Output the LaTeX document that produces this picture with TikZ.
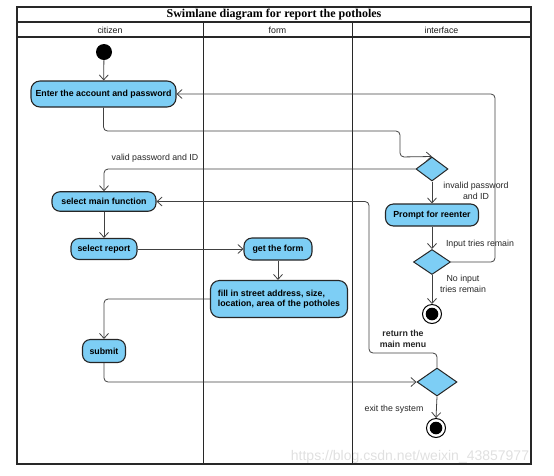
\documentclass[tikz,border=0pt]{standalone}
\usepackage{fontspec}
\setmainfont{Liberation Sans}
\newfontfamily\titlefont{Liberation Serif}
\usetikzlibrary{arrows.meta,shapes.geometric}
\definecolor{actfill}{RGB}{125,206,245}
\definecolor{lineg}{RGB}{65,65,65}
\definecolor{framec}{RGB}{40,40,40}
\begin{document}
\begin{tikzpicture}[x=1pt,y=-1pt,
  act/.style={draw=black!85,line width=1.1pt,fill=actfill,rounded corners=8pt,
    font=\fontsize{8.8}{10.5}\selectfont\bfseries,inner sep=0pt,align=center},
  dec/.style={draw=black!85,line width=1pt,fill=actfill,diamond,inner sep=0pt,shape aspect=1.4},
  startn/.style={circle,fill=black,minimum size=16pt,inner sep=0pt},
  endn/.style={circle,draw=black,line width=1pt,fill=white,minimum size=19pt,inner sep=0pt,
    path picture={\fill[black] (path picture bounding box.center) circle (6.3pt);}},
  conn/.style={draw=lineg,line width=0.8pt,-{Straight Barb[length=5pt,width=9pt]},rounded corners=4pt},
  lab/.style={font=\fontsize{8.8}{10.5}\selectfont,text=black!85,align=center,inner sep=0pt},
  head/.style={font=\fontsize{8.8}{10}\selectfont,text=black!90,inner sep=0pt},
  frame/.style={draw=framec,line width=1.2pt}
]
\useasboundingbox (0,0) rectangle (554,475);
% watermark
\node[text=black!12,font=\fontsize{14}{14}\selectfont,inner sep=0pt] (wm) at (410,457) {https://blog.csdn.net/weixin\_43857977};
% frame
\draw[frame] (17,7) rectangle (531,464);
\draw[frame] (17,22) -- (531,22);
\draw[frame] (17,37) -- (531,37);
\draw[frame,line width=0.9pt] (203,22) -- (203,464);
\draw[frame,line width=0.9pt] (352,22) -- (352,464);
\node[font=\titlefont\fontsize{12}{12}\selectfont\bfseries,inner sep=0pt] (title) at (274,15) {Swimlane diagram for report the potholes};
\node[head] (hc) at (110,30) {citizen};
\node[head] (hf) at (277.5,30) {form};
\node[head] (hi) at (441.5,30) {interface};
% nodes
\node[startn] (start) at (104,52) {};
\node[act,minimum width=145pt,minimum height=26pt,rounded corners=9pt] (enter) at (103.5,94) {Enter the account and password};
\node[dec,minimum width=32pt,minimum height=24pt] (d1) at (432,169) {};
\node[act,minimum width=104pt,minimum height=19.5pt] (main) at (104,201.5) {select main function};
\node[act,minimum width=93pt,minimum height=22pt] (prompt) at (432,215) {Prompt for reenter};
\node[dec,minimum width=37pt,minimum height=25pt] (d2) at (432,262) {};
\node[endn] (end1) at (432,314) {};
\node[act,minimum width=66pt,minimum height=21pt] (report) at (104,249) {select report};
\node[act,minimum width=68pt,minimum height=22pt] (getform) at (278,249) {get the form};
\node[act,minimum width=137pt,minimum height=37pt,rounded corners=9pt,align=left] (fill) at (279,299) {fill in street address, size,\\location, area of the potholes};
\node[act,minimum width=43pt,minimum height=23pt] (submit) at (104,351) {submit};
\node[dec,minimum width=40pt,minimum height=28pt] (d3) at (437,382) {};
\node[endn] (end2) at (436,428) {};
% labels
\node[lab] (lvalid) at (155,158) {valid password and ID};
\node[lab] (linvalid) at (476,191) {invalid password\\and ID};
\node[lab] (ltries) at (480,244) {Input tries remain};
\node[lab] (lno) at (463,284) {No input\\tries remain};
\node[lab,font=\fontsize{8.8}{10.5}\selectfont\bfseries] (lret) at (403,339) {return the\\main menu};
\node[lab] (lexit) at (394,409) {exit the system};
% connectors
\draw[conn] (start) -- (enter);
\draw[conn] (enter.south) -- (103.5,131) -- (400,131) -- (400,157) -- (d1.north);
\draw[conn] (d1.west) -| (main.north);
\draw[conn] (d1.south) -- (prompt.north);
\draw[conn] (prompt.south) -- (d2.north);
\draw[conn] (d2.east) -| (495,94) -- (enter.east);
\draw[conn] (d2.south) -- (end1.north);
\draw[conn] (main.south) -- (report.north);
\draw[conn] (report.east) -- (getform.west);
\draw[conn] (getform.south) -- (getform.south |- fill.north);
\draw[conn] (fill.west) -| (submit.north);
\draw[conn] (submit.south) |- (d3.west);
\draw[conn] (d3.north) |- (369,353) |- (main.east);
\draw[conn] (d3.south) -- (end2.north);
\end{tikzpicture}
\end{document}
